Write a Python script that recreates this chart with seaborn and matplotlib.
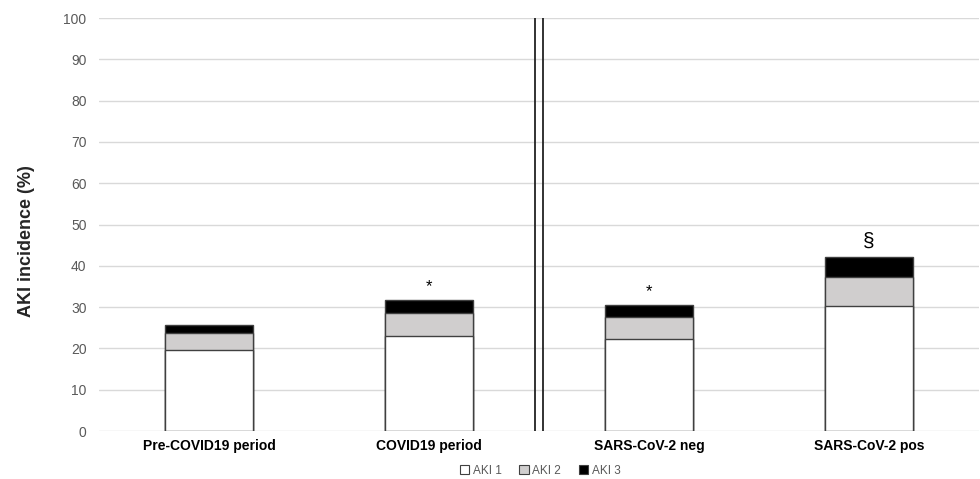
import matplotlib
matplotlib.use("Agg")
import matplotlib.pyplot as plt
import seaborn as sns
import pandas as pd
import numpy as np
from matplotlib.patches import Patch

categories = ["Pre-COVID19 period", "COVID19 period", "SARS-CoV-2 neg", "SARS-CoV-2 pos"]
aki1 = [19.7, 23.0, 22.2, 30.3]
aki2 = [4.0, 5.6, 5.4, 7.0]
aki3 = [2.0, 3.1, 2.9, 4.8]
markers = ["", "*", "*", "§"]
series_names = ["AKI 1", "AKI 2", "AKI 3"]
yticks = list(range(0, 101, 10))

sns.set_theme(style="white")
plt.rcParams['font.family'] = ['Liberation Sans', 'DejaVu Sans']

fig = plt.figure(figsize=(9.8, 4.79), dpi=100)
ax = fig.add_axes([0.101, 0.1002, 0.898, 0.8622])

df = pd.DataFrame({"cat": categories, "a1": aki1, "a2": aki2, "a3": aki3})
df["c12"] = df["a1"] + df["a2"]
df["c123"] = df["c12"] + df["a3"]

for col, color in [("c123", "#000000"), ("c12", "#d0cece"), ("a1", "#ffffff")]:
    sns.barplot(data=df, x="cat", y=col, color=color, width=0.4, ax=ax,
                edgecolor="#404040", linewidth=1.0, saturation=1, zorder=3)

ax.set_ylim(0, 100)
ax.set_xlim(-0.5, 3.5)
ax.set_yticks(yticks)
ax.set_yticklabels([str(t) for t in yticks], color="#595959", fontsize=10)
ax.tick_params(axis="y", length=0, pad=9)
ax.tick_params(axis="x", length=0, pad=6)
ax.set_xticks(range(len(categories)))
ax.set_xticklabels(categories, fontsize=10, fontweight="bold", color="black")
ax.yaxis.grid(True, color="#d9d9d9", linewidth=1.0, zorder=0)
ax.set_axisbelow(True)
for s in ax.spines.values():
    s.set_visible(False)
ax.set_xlabel("")
ax.set_ylabel("AKI incidence (%)", fontsize=13, fontweight="bold")
ax.yaxis.set_label_coords(-0.073, 0.46)

# double separator lines
for dx in (-0.018, 0.018):
    ax.plot([1.5 + dx, 1.5 + dx], [0, 100], color="#222222", linewidth=1.3, zorder=4,
            solid_capstyle="butt")

# significance markers
for i, (m, tot) in enumerate(zip(markers, df["c123"])):
    if not m:
        continue
    if m == "*":
        ax.text(i, tot + 1.5, m, ha="center", va="bottom", fontsize=12, color="black")
    else:
        ax.text(i, tot + 1.5, m, ha="center", va="bottom", fontsize=15, color="black")

handles = [Patch(facecolor=c, edgecolor="#404040", linewidth=0.8, label=n)
           for c, n in zip(["#ffffff", "#d0cece", "#000000"], series_names)]
leg = fig.legend(handles=handles, loc="center", bbox_to_anchor=(0.551, 0.017), ncol=3,
                 frameon=False, fontsize=8.5, handlelength=0.8, handleheight=0.8,
                 handletextpad=0.3, columnspacing=1.5, borderpad=0)
for t in leg.get_texts():
    t.set_color("#595959")

fig.savefig("out.png", dpi=100)
